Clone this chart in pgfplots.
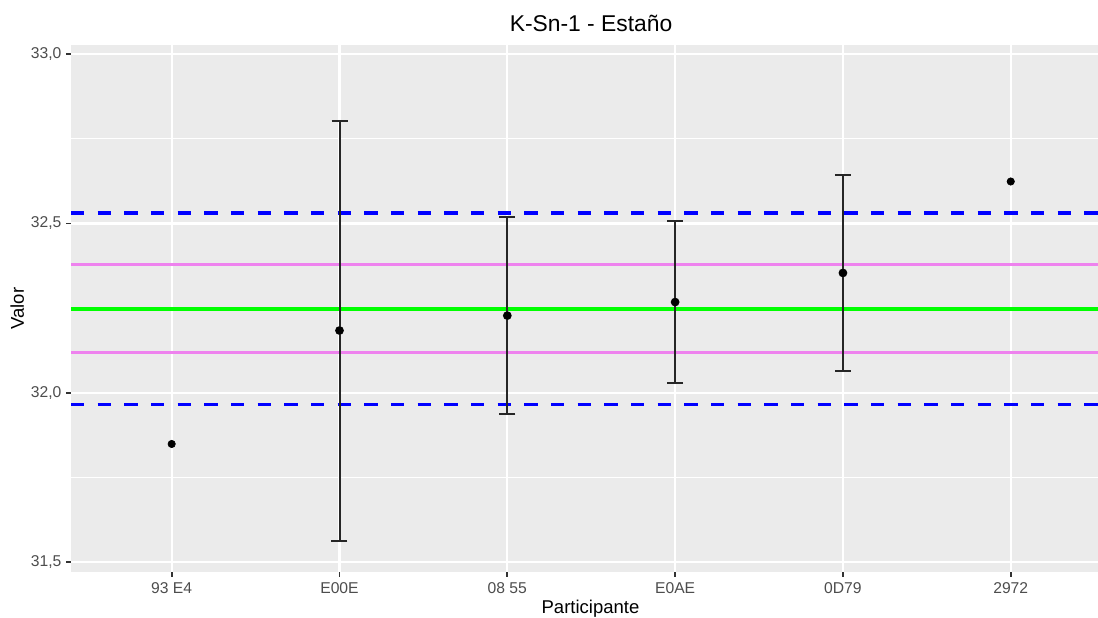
\documentclass[border=0pt]{standalone}
\usepackage{fontspec}
\setmainfont{Liberation Sans}
\usepackage{pgfplots}
\pgfplotsset{compat=1.18}
\definecolor{panelbg}{HTML}{EBEBEB}
\definecolor{ticktext}{HTML}{4D4D4D}
\definecolor{tickcol}{HTML}{333333}
\definecolor{ggblue}{HTML}{0000FF}
\definecolor{gggreen}{HTML}{00FF00}
\definecolor{ggviolet}{HTML}{EE82EE}
\begin{document}
\begin{tikzpicture}
\path[use as bounding box] (-42.6pt,-27pt) rectangle (616.2pt,343.2pt);
\begin{axis}[
  at={(0,0)}, anchor=south west,
  scale only axis, width=616.2pt, height=316.2pt,
  xmin=-0.6, xmax=5.52, ymin=31.471, ymax=33.027,
  axis background/.style={fill=panelbg},
  axis line style={draw=none},
  xtick={0,1,2,3,4,5},
  xticklabels={93 E4,E00E,08 55,E0AE,0D79,2972},
  ytick={31.5,32,32.5,33},
  yticklabels={{31,5},{32,0},{32,5},{33,0}},
  minor ytick={31.75,32.25,32.75},
  xmajorgrids, ymajorgrids, yminorgrids,
  major grid style={white, line width=1.4pt},
  minor grid style={white, line width=0.7pt},
  tick align=outside, major tick length=2.75pt, minor tick length=0pt,
  tick style={tickcol, line width=1.1pt},
  xtick pos=lower, ytick pos=left,
  tick label style={font=\fontsize{9.4}{11}\selectfont, text=ticktext},
  yticklabel style={anchor=east, inner sep=0pt, xshift=-2.8pt},
  xticklabel style={anchor=north, inner sep=0pt, yshift=-3.6pt},
]
\addplot[gggreen, line width=2.4pt] coordinates {(-0.6,32.248) (5.52,32.248)};
\addplot[ggviolet, line width=1.8pt] coordinates {(-0.6,32.378) (5.52,32.378)};
\addplot[ggviolet, line width=1.8pt] coordinates {(-0.6,32.120) (5.52,32.120)};
\addplot[ggblue, line width=2.1pt, dash pattern=on 8pt off 8pt] coordinates {(-0.6,32.531) (5.52,32.531)};
\addplot[ggblue, line width=2.1pt, dash pattern=on 8pt off 8pt] coordinates {(-0.6,31.966) (5.52,31.966)};
\addplot[only marks, mark=none, black!85, line width=1.2pt,
  error bars/.cd, y dir=both, y explicit,
  error bar style={draw=black!85, solid, line width=1.2pt},
  error mark options={draw=black!85, rotate=90, mark size=4.8pt, line width=1.2pt}]
  coordinates {
  (1,32.184) +- (0,0.620)
  (2,32.228) +- (0,0.290)
  (3,32.268) +- (0,0.240)
  (4,32.354) +- (0,0.290)
  };
\addplot[only marks, mark=*, mark size=2.2pt, black] coordinates {
  (0,31.849) (1,32.184) (2,32.228) (3,32.268) (4,32.354) (5,32.624)};
\end{axis}
\node[anchor=base, font=\fontsize{13.7}{16}\selectfont] at (312pt,324.2pt) {K-Sn-1 - Estaño};
\node[anchor=base, font=\fontsize{11.1}{13}\selectfont] at (311.7pt,-24.6pt) {Participante};
\node[anchor=base, rotate=90, font=\fontsize{11.1}{13}\selectfont] at (-28.2pt,158.1pt) {Valor};
\end{tikzpicture}
\end{document}
